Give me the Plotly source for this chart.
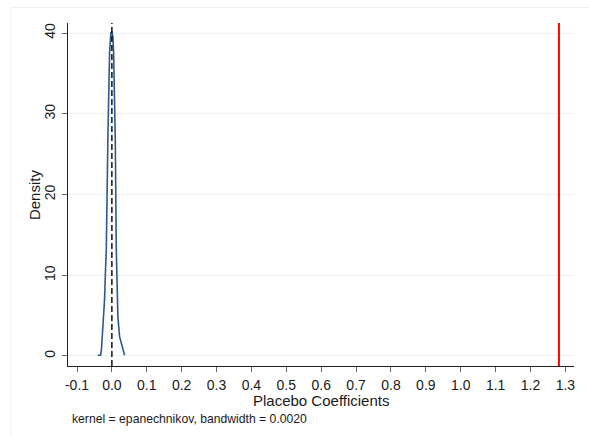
import plotly.graph_objects as go

# Kernel density of placebo coefficients (epanechnikov, bw = 0.0020)
coef_grid = [-0.0405, -0.0324, -0.0300, -0.0275, -0.0238, -0.0210, -0.0180, -0.0160,
             -0.0115, -0.0102, -0.0066, -0.0030, 0.0, 0.0030, 0.0050, 0.0086,
             0.0098, 0.0126, 0.0150, 0.0172, 0.0220, 0.0298, 0.0364]
density = [0.1, 0.1, 0.75, 2.4, 4.1, 7.0, 11.0, 13.2,
           26.8, 29.3, 37.6, 40.0, 40.2, 39.5, 37.6, 29.3,
           26.8, 13.2, 7.5, 4.9, 2.4, 1.16, 0.1]

placebo_center = 0.0      # dashed reference line
true_coef = 1.2815        # estimated coefficient (red line)

x_ticks = [round(-0.1 + 0.1 * i, 1) for i in range(15)]
x_labels = [f"{v:.1f}" for v in x_ticks]
y_ticks = [0, 10, 20, 30, 40]

x_range = [-0.1258, 1.3247]
y_range = [-1.24, 41.24]

fig = go.Figure()
fig.add_trace(go.Scatter(x=coef_grid, y=density, mode="lines",
                         line=dict(color="#2a5a8a", width=1.6), hoverinfo="skip"))
fig.add_trace(go.Scatter(x=[placebo_center, placebo_center], y=y_range, mode="lines",
                         line=dict(color="black", width=1.4, dash="6px,3px"), hoverinfo="skip"))
fig.add_trace(go.Scatter(x=[true_coef, true_coef], y=y_range, mode="lines",
                         line=dict(color="#ff0000", width=2), hoverinfo="skip"))

font_main = "Liberation Sans, Arial, sans-serif"

fig.update_layout(
    width=589, height=437,
    margin=dict(l=68, r=15, t=23, b=71),
    paper_bgcolor="white", plot_bgcolor="white",
    showlegend=False,
    font=dict(family=font_main, color="#1a1a1a", size=14),
    xaxis=dict(range=x_range, tickvals=x_ticks, ticktext=x_labels,
               showgrid=False, zeroline=False, showline=True, linecolor="#222",
               linewidth=1, ticks="outside", ticklen=5, tickcolor="#666",
               tickfont=dict(size=14), ticklabelstandoff=1, fixedrange=True),
    yaxis=dict(range=y_range, tickvals=y_ticks, tickangle=-90,
               showgrid=True, gridcolor="#eaf2f3", gridwidth=1.2,
               zeroline=False, showline=True, linecolor="#222", linewidth=1,
               ticks="outside", ticklen=5, tickcolor="#666",
               tickfont=dict(size=14), ticklabelstandoff=1, fixedrange=True),
    annotations=[
        dict(text="Placebo Coefficients", xref="paper", yref="paper",
             x=0.5, y=-0.102, xanchor="center", yanchor="middle",
             showarrow=False, font=dict(size=15)),
        dict(text="Density", xref="paper", yref="paper",
             x=-0.066, y=0.5, xanchor="center", yanchor="middle",
             textangle=-90, showarrow=False, font=dict(size=15)),
        dict(text="kernel = epanechnikov, bandwidth = 0.0020", xref="paper", yref="paper",
             x=0.004, y=-0.155, xanchor="left", yanchor="middle",
             showarrow=False, font=dict(size=12.2)),
    ],
    shapes=[
        dict(type="rect", xref="paper", yref="paper",
             x0=-0.1132, y0=-0.4, x1=1.2, y1=1.0447,
             line=dict(color="#f0f0f0", width=1), layer="below"),
    ],
)

fig.write_html("out.html")
